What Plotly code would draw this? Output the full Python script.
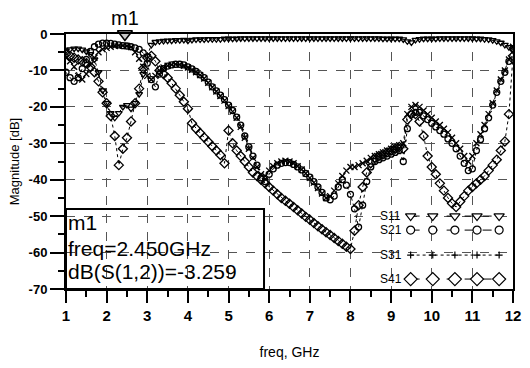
import numpy as np
import plotly.graph_objects as go

# ---------------- data ----------------
freq = np.round(np.arange(1.0, 12.0001, 0.1), 1)

s11 = [-4.5, -4.2, -4.0, -4.0, -4.3, -4.8, -5.5, -7.0, -10.5, -15.5,
       -19.0, -21.7, -23.0, -21.7, -20.0, -19.5, -20.5, -19.0, -16.5, -11.0,
       -6.0, -3.0, -2.2, -2.0, -1.9, -1.8, -1.8, -1.7, -1.7, -1.6,
       -1.8, -1.6, -1.5, -1.5, -1.5, -1.4, -1.4, -1.4, -1.4, -1.3,
       -1.3, -1.3, -1.3, -1.2, -1.2, -1.2, -1.2, -1.2, -1.2, -1.2,
       -1.2, -1.2, -1.2, -1.2, -1.2, -1.2, -1.2, -1.2, -1.2, -1.2,
       -1.2, -1.2, -1.2, -1.2, -1.2, -1.2, -1.2, -1.2, -1.2, -1.2,
       -1.2, -1.2, -1.2, -1.2, -1.2, -1.2, -1.2, -1.2, -1.3, -1.3,
       -1.3, -1.3, -1.3, -1.5, -2.0, -2.3, -1.6, -1.4, -1.3, -1.3,
       -1.3, -1.3, -1.2, -1.2, -1.2, -1.2, -1.2, -1.2, -1.2, -1.2,
       -1.2, -1.3, -1.3, -1.4, -1.5, -1.7, -2.0, -2.4, -3.0, -3.6,
       -4.5]

s21 = [-10.5, -12.0, -13.0, -12.0, -9.5, -7.0, -4.8, -3.5, -2.8, -2.5,
       -2.5, -2.6, -2.8, -3.0, -3.2, -3.3, -3.5, -3.8, -4.2, -5.2,
       -8.0, -12.5, -14.5, -11.0, -9.5, -8.8, -8.5, -8.3, -8.3, -8.5,
       -9.0, -9.6, -10.3, -11.2, -12.0, -13.2, -14.5, -15.6, -16.8, -18.0,
       -19.5, -21.0, -22.8, -25.0, -28.0, -31.0, -33.5, -36.0, -39.5, -40.5,
       -38.5, -37.0, -36.0, -35.5, -35.3, -35.3, -35.8, -36.5, -37.3, -38.3,
       -39.3, -40.5, -42.0, -43.5, -45.0, -45.5, -44.5, -42.0, -40.0, -41.5,
       -44.0, -48.0, -53.0, -47.0, -40.5, -36.5, -35.0, -34.5, -34.0, -33.5,
       -33.0, -32.5, -32.0, -35.0, -26.0, -22.0, -21.5, -21.5, -22.5, -23.5,
       -24.5, -25.5, -26.5, -27.5, -28.8, -30.0, -31.5, -33.5, -35.5, -37.5,
       -37.0, -32.0, -29.0, -26.0, -23.0, -19.5, -16.0, -13.0, -10.5, -7.5,
       -4.0]

s31 = [-6.5, -7.5, -9.0, -11.5, -12.5, -11.0, -8.5, -6.5, -5.0, -4.2,
       -3.8, -3.5, -3.3, -3.2, -3.2, -3.3, -3.6, -5.0, -6.8, -9.0,
       -11.5, -12.5, -11.5, -10.0, -9.2, -8.7, -8.4, -8.3, -8.4, -8.7,
       -9.2, -9.8, -10.5, -11.3, -12.2, -13.4, -14.6, -15.8, -17.0, -18.3,
       -19.8, -21.3, -23.0, -25.5, -28.5, -31.5, -34.0, -36.5, -38.5, -39.0,
       -37.5, -36.3, -35.5, -35.0, -34.8, -35.0, -35.5, -36.3, -37.2, -38.3,
       -39.5, -40.8, -42.3, -43.8, -45.0, -44.5, -43.0, -41.0, -39.0, -37.5,
       -36.5, -36.5, -36.0, -35.5, -34.8, -34.0, -33.5, -33.0, -32.5, -32.0,
       -31.5, -31.0, -30.5, -30.0, -22.0, -20.0, -19.5, -20.0, -21.0, -22.0,
       -23.0, -24.0, -25.0, -26.0, -27.0, -28.5, -30.0, -31.5, -33.5, -35.0,
       -33.5, -30.0, -27.5, -25.0, -22.0, -19.0, -15.5, -12.5, -10.0, -7.0,
       -3.5]

s41 = [-5.5, -6.0, -6.5, -7.0, -7.5, -8.0, -9.0, -10.5, -13.0, -16.0,
       -19.0, -22.5, -28.0, -36.0, -31.5, -28.5, -24.0, -19.0, -15.0, -9.5,
       -6.5, -6.0, -7.5, -10.0, -11.0, -12.0, -13.5, -15.0, -16.8, -18.6,
       -20.5, -24.5, -26.0, -27.2, -28.4, -29.6, -30.8, -32.0, -33.2, -35.5,
       -26.5, -30.0, -32.0, -33.5, -35.0, -36.5, -38.0, -39.0, -40.0, -41.0,
       -42.0, -43.0, -44.0, -45.0, -45.8, -46.6, -47.5, -48.4, -49.3, -50.2,
       -51.0, -51.9, -52.8, -53.6, -54.4, -55.2, -56.0, -56.8, -57.6, -58.4,
       -59.0, -54.0, -47.0, -42.0, -38.0, -35.5, -34.0, -33.5, -33.0, -32.5,
       -32.0, -31.5, -31.0, -31.5, -23.5, -22.0, -22.0, -24.0, -28.0, -33.5,
       -36.5, -38.5, -41.0, -43.0, -45.0, -46.5, -47.5, -46.0, -44.5, -43.0,
       -42.0, -41.0, -40.0, -39.0, -37.5, -36.0, -34.5, -32.0, -29.5, -22.0,
       -6.0]

series_names = ["S11", "S21", "S31", "S41"]
x_ticks = [1, 2, 3, 4, 5, 6, 7, 8, 9, 10, 11, 12]
x_ticktext = ["1", "2", "3", "4", "5", "6", "7", "8", "9", "10", "11", "12"]
y_ticks = [-70, -60, -50, -40, -30, -20, -10, 0]
y_ticktext = ["-70", "-60", "-50", "-40", "-30", "-20", "-10", "0"]

m1_freq = 2.45
m1_val = -3.259
m1_lines = ["m1", "freq=2.450GHz", "dB(S(1,2))=-3.259"]

# ---------------- styling ----------------
FONT = "Arial, Liberation Sans, sans-serif"
INK = "black"
styles = {
    "S11": dict(plot="triangle-down-open", leg="triangle-down", size=6, legsize=9),
    "S21": dict(plot="circle-open", leg="circle", size=6, legsize=8),
    "S31": dict(plot="x-thin-open", leg="cross-thin-open", size=6, legsize=5),
    "S41": dict(plot="diamond-open", leg="diamond", size=7, legsize=10),
}
data = {"S11": s11, "S21": s21, "S31": s31, "S41": s41}

fig = go.Figure()
for name in series_names:
    st = styles[name]
    fig.add_trace(go.Scatter(
        x=freq, y=data[name], mode="lines+markers", name=name,
        line=dict(color=INK, width=1, dash="dot"),
        marker=dict(symbol=st["plot"], size=st["size"], color=INK,
                    line=dict(color=INK, width=1.3)),
        showlegend=False,
    ))

# marker m1 triangle at top of plot
fig.add_trace(go.Scatter(
    x=[m1_freq], y=[y_ticks[-1]], mode="markers", showlegend=False,
    cliponaxis=False,
    marker=dict(symbol="triangle-down", size=13, color="#c8c8c8",
                line=dict(color=INK, width=1.5)),
))

# custom legend (label left, sample right) on an overlay axis
leg_rows = [0.286, 0.231, 0.133, 0.039]
leg_x = np.linspace(0.771, 0.969, 5)
for name, ry in zip(series_names, leg_rows):
    st = styles[name]
    fig.add_trace(go.Scatter(
        x=leg_x, y=[ry] * len(leg_x), xaxis="x2", yaxis="y2",
        mode="lines+markers", showlegend=False, hoverinfo="skip",
        line=dict(color=INK, width=1, dash="dash" if name != "S31" else "dot"),
        marker=dict(symbol=st["leg"], size=st["legsize"], color="white" if name != "S31" else INK,
                    line=dict(color=INK, width=1.2)),
    ))
    fig.add_annotation(x=0.697, y=ry, xref="paper", yref="paper", text=name,
                       showarrow=False, xanchor="left", yanchor="middle",
                       font=dict(family=FONT, size=12, color=INK))

# marker readout box
fig.add_shape(type="rect", xref="paper", yref="paper", x0=0, x1=0.443, y0=0, y1=0.314,
              line=dict(color=INK, width=2), fillcolor="rgba(0,0,0,0)")
for txt, py in zip(m1_lines, [0.262, 0.160, 0.068]):
    fig.add_annotation(x=0.003, y=py, xref="paper", yref="paper", text=txt,
                       showarrow=False, xanchor="left", yanchor="middle", borderpad=0,
                       font=dict(family=FONT, size=21, color=INK))

# m1 label above the plot
fig.add_annotation(x=m1_freq, y=1.063, xref="x", yref="paper", text="m1",
                   showarrow=False, xanchor="center", yanchor="middle",
                   font=dict(family=FONT, size=20, color=INK))

grid = dict(showgrid=True, gridcolor="#555555", gridwidth=1, griddash="dash")
fig.update_layout(
    width=530, height=368,
    margin=dict(l=66, r=9, t=34, b=79),
    paper_bgcolor="white", plot_bgcolor="white",
    font=dict(family=FONT, color=INK),
    xaxis=dict(range=[1, 12], tickvals=x_ticks, ticktext=x_ticktext,
               ticks="outside", ticklen=12, tickwidth=2, tickcolor=INK,
               minor=dict(dtick=0.5, ticks="outside", ticklen=6, tickwidth=2, tickcolor=INK, showgrid=False),
               showline=True, linewidth=2, linecolor=INK, mirror=True,
               tickfont=dict(family=FONT, size=15, color=INK, weight="bold"),
               title=dict(text="freq, GHz", font=dict(family=FONT, size=14, color=INK), standoff=24),
               zeroline=False, **grid),
    yaxis=dict(range=[-70, 0], tickvals=y_ticks, ticktext=y_ticktext,
               ticks="outside", ticklen=14, tickwidth=2, tickcolor=INK,
               minor=dict(dtick=5, ticks="outside", ticklen=6, tickwidth=2, tickcolor=INK, showgrid=False),
               showline=True, linewidth=2, linecolor=INK, mirror=True,
               tickfont=dict(family=FONT, size=13, color=INK, weight="bold"),
               title=dict(text="Magnitude [dB]", font=dict(family=FONT, size=13, color=INK), standoff=6),
               zeroline=False, **grid),
    xaxis2=dict(domain=[0, 1], range=[0, 1], overlaying="x", anchor="y2", visible=False),
    yaxis2=dict(domain=[0, 1], range=[0, 1], overlaying="y", anchor="x2", visible=False),
)

fig.write_html("out.html")
